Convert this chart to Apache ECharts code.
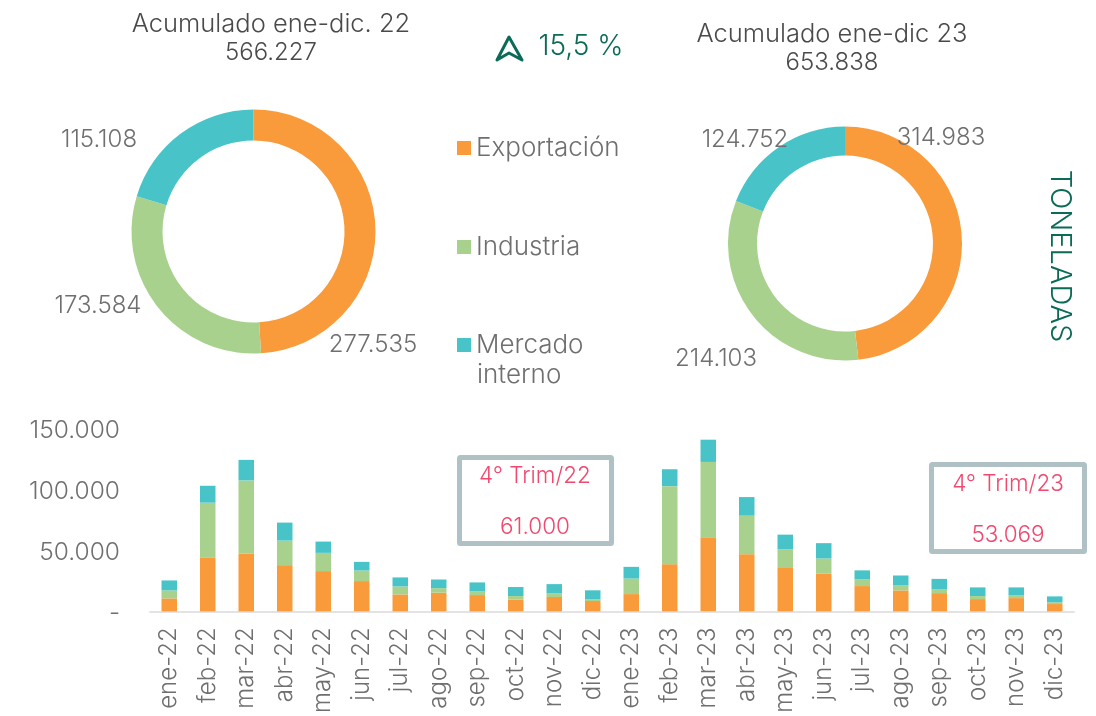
<!DOCTYPE html>
<html><head><meta charset="utf-8">
<script src="https://cdn.jsdelivr.net/npm/echarts@6/dist/echarts.min.js"></script>
<style>html,body{margin:0;padding:0;background:#fff}#c{width:1096px;height:716px}</style>
</head><body><div id="c"></div>
<script>
const months = ['ene-22','feb-22','mar-22','abr-22','may-22','jun-22','jul-22','ago-22','sep-22','oct-22','nov-22','dic-22','ene-23','feb-23','mar-23','abr-23','may-23','jun-23','jul-23','ago-23','sep-23','oct-23','nov-23','dic-23'];
const exportacion = [10660,44000,47600,38000,33100,24900,13900,15300,13400,9600,11800,8500,14200,38800,60900,47000,36300,30900,20800,17200,15000,10100,10900,6000];
const industria = [6560,45400,60100,20200,15000,8700,6600,3800,3000,3000,3000,1400,12800,64200,62000,31700,14800,12600,5500,4400,3000,2500,2200,1400];
const mercado = [8200,13900,16900,14800,9300,7100,7400,7100,7400,7400,7600,7400,9600,13900,18300,15300,12000,12600,7400,7900,8700,7100,6600,4900];
const names = ['Exportación','Industria','Mercado interno'];
const total22 = [277535,173584,115108];
const total23 = [314983,214103,124752];
const colors = ['#F99B3B','#A9D18E','#48C4C8'];
const font = 'Inter';
const gray = '#6f6f6f', green = '#0B6B57', pink = '#F0486E', boxC = '#AFC1C4';
const fmt = v => String(v).replace(/\B(?=(\d{3})+$)/g,'.');

function donut(data, center, radius, labelPos){
  return {type:'pie',center,radius,startAngle:90,clockwise:true,silent:true,
    data:data.map((v,i)=>({name:names[i],value:v,itemStyle:{color:colors[i]}})),
    label:{show:true,formatter:p=>fmt(p.value),fontFamily:font,fontSize:24,fontWeight:300,color:gray,overflow:'none',width:120},
    labelLine:{show:false},
    labelLayout:p=>({x:labelPos[p.dataIndex][0],y:labelPos[p.dataIndex][1],align:'center',verticalAlign:'middle',hideOverlap:false})};
}
const txt=(x,y,text,o={})=>({type:'text',x,y,rotation:o.rotation||0,style:{text,x:0,y:0,align:o.align||'center',verticalAlign:'middle',fontFamily:font,fontSize:o.size||25.5,fontWeight:300,fill:o.color||'#4a4a4a'}});
const box=(x,y,w,h)=>({type:'rect',shape:{x,y,width:w,height:h,r:1},style:{fill:'#fff',stroke:boxC,lineWidth:5}});
const legendAt=(name,top)=>({show:true,data:[name],left:457,top,padding:0,orient:'vertical',itemWidth:14,itemHeight:14,selectedMode:false,itemGap:0,
  formatter:n=>n.split(' ')[0],textStyle:{fontFamily:font,fontSize:26,fontWeight:300,color:gray},icon:'rect'});

const chart = echarts.init(document.getElementById('c'),null,{renderer:'canvas'});
chart.setOption({
  animation:false,backgroundColor:'#fff',
  legend:[legendAt(names[0],135),legendAt(names[1],234),legendAt(names[2],332)],
  grid:{left:150,right:22,top:429,bottom:104},
  xAxis:{type:'category',data:months,axisTick:{show:false},axisLine:{lineStyle:{color:'#E3E3E3',width:2}},
    axisLabel:{rotate:90,interval:0,margin:16,fontFamily:font,fontSize:24,fontWeight:300,color:gray}},
  yAxis:{type:'value',min:0,max:150000,interval:50000,splitLine:{show:false},axisLine:{show:false},axisTick:{show:false},
    axisLabel:{margin:30,fontFamily:font,fontSize:24.5,fontWeight:300,color:gray,formatter:v=>'{a|'+(v===0?'-':fmt(v))+'}',
      rich:{a:{padding:[4,0,0,0],fontFamily:font,fontSize:24.5,fontWeight:300,color:gray}}}},
  series:[
    ...[exportacion,industria,mercado].map((d,i)=>({type:'bar',name:names[i],stack:'t',data:d,barWidth:15.5,silent:true,itemStyle:{color:colors[i]}})),
    donut(total22,[253.5,231.5],[91,122],[[373,345],[98,306],[99,140]]),
    donut(total23,[845,243.5],[88,117],[[941,138],[716,359],[745,140]])
  ],
  graphic:[
    txt(271,24,'Acumulado ene-dic. 22'),txt(271,53,fmt(566227),{size:24}),
    txt(832,34,'Acumulado ene-dic 23'),txt(832,63,fmt(653838),{size:24}),
    {type:'polygon',shape:{points:[[509,37],[497,60],[509,53],[522,60]]},style:{fill:'none',stroke:green,lineWidth:3,lineJoin:'round'}},
    txt(581,47,'15,5 %',{size:28,color:green}),
    txt(477,375,'interno',{align:'left',color:gray,size:26}),
    txt(1060,256,'TONELADAS',{size:29,color:green,rotation:-Math.PI/2}),
    box(459.5,457.5,152,86),box(931.5,464.5,153,87),
    txt(535,476,'4° Trim/22',{size:22.5,color:pink}),txt(535,527,fmt(61000),{size:22.5,color:pink}),
    txt(1008,484,'4° Trim/23',{size:22.5,color:pink}),txt(1008,535,fmt(53069),{size:22.5,color:pink})
  ]
});
</script></body></html>
